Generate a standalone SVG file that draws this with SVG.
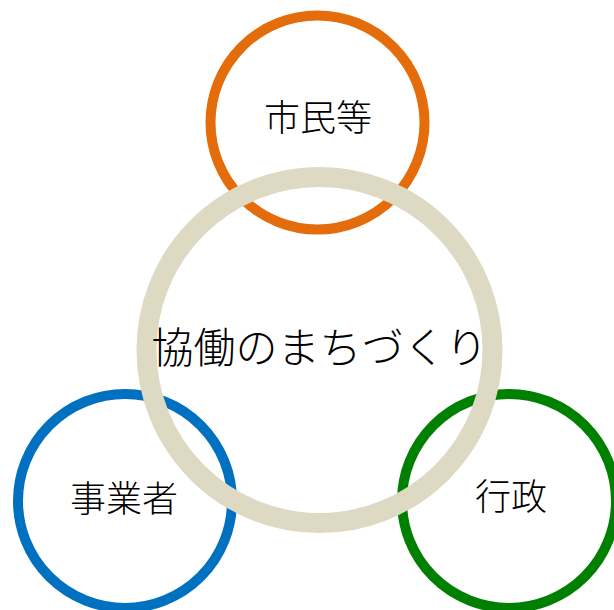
<svg xmlns="http://www.w3.org/2000/svg" width="614" height="610" viewBox="0 0 614 610">
<style>
.c{fill:none;stroke-width:10}
.t{font-family:"Noto Sans CJK JP","Noto Sans",sans-serif;fill:#000;text-anchor:middle;font-weight:300}
</style>
<rect width="614" height="610" fill="#fff"/>
<g id="node-citizens">
<circle class="c" cx="317.5" cy="122.5" r="107" stroke="#E46C0A"/>
<text class="t" x="318" y="131" font-size="36">市民等</text>
</g>
<g id="node-business">
<circle class="c" cx="125" cy="501" r="107" stroke="#0070C0"/>
<text class="t" x="124" y="512" font-size="36">事業者</text>
</g>
<g id="node-government">
<circle class="c" cx="509" cy="501" r="107" stroke="#008000"/>
<text class="t" x="511" y="510" font-size="36">行政</text>
</g>
<g id="node-center">
<circle cx="319.5" cy="350" r="173" fill="none" stroke="#DDD9C3" stroke-width="20"/>
<text class="t" x="319.5" y="362.5" font-size="42">協働のまちづくり</text>
</g>
<g id="connectors"/>
</svg>
